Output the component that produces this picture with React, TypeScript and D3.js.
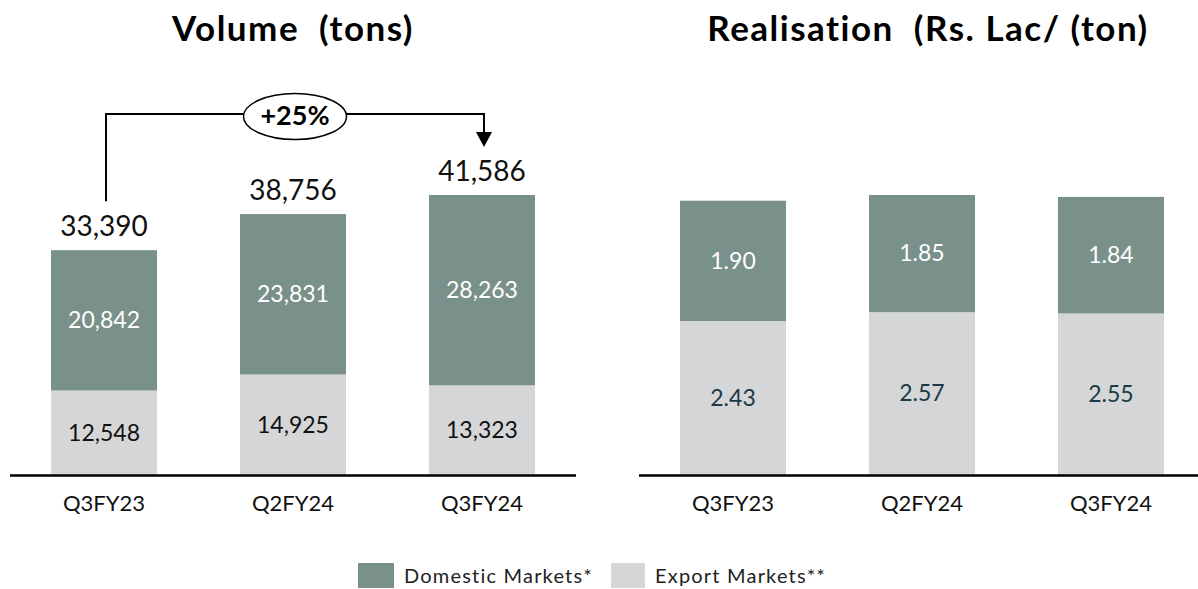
import React from "react";
import * as d3 from "d3";

const categories = ["Q3FY23", "Q2FY24", "Q3FY24"];
const volumeDomestic = [20842, 23831, 28263];
const volumeExport = [12548, 14925, 13323];
const volumeTotal = [33390, 38756, 41586];
const realisationDomestic = [1.9, 1.85, 1.84];
const realisationExport = [2.43, 2.57, 2.55];
const growthLabel = "+25%";
const seriesNames = ["Domestic Markets*", "Export Markets**"];
const titles = ["Volume  (tons)", "Realisation  (Rs. Lac/ (ton)"];

const W = 1198;
const H = 589;
const FONT = "Lato, 'Open Sans', sans-serif";
const C_DOM = "#7a908b";
const C_EXP = "#d5d6d8";
const BASE = 475;
const TOP = 195;

type PanelProps = {
  x0: number;
  x1: number;
  dom: number[];
  exp: number[];
  fmt: (v: number) => string;
  showTotals: boolean;
  domLabelColor: string;
  expLabelColor: string;
  labelSize: number;
};

function Panel({ x0, x1, dom, exp, fmt, showTotals, domLabelColor, expLabelColor, labelSize }: PanelProps) {
  const x = d3.scaleBand<string>().domain(categories).range([x0, x1]).paddingInner(0.439).paddingOuter(0.217);
  const totals = dom.map((d, i) => d + exp[i]);
  const y = d3.scaleLinear().domain([0, d3.max(totals) as number]).range([BASE, TOP]);
  const stack = d3.stack<any>().keys(["exp", "dom"])(categories.map((c, i) => ({ c, exp: exp[i], dom: dom[i] })));
  return (
    <g>
      {stack.map((layer) => (
        <g key={layer.key}>
          {layer.map((seg, i) => {
            const cx = (x(categories[i]) as number) + x.bandwidth() / 2;
            const yTop = y(seg[1]);
            const yBot = y(seg[0]);
            const isDom = layer.key === "dom";
            const val = isDom ? dom[i] : exp[i];
            return (
              <g key={i}>
                <rect x={x(categories[i])} y={yTop} width={x.bandwidth()} height={yBot - yTop} fill={isDom ? C_DOM : C_EXP} />
                <text
                  x={cx}
                  y={(yTop + yBot) / 2 + 2}
                  textAnchor="middle"
                  dominantBaseline="middle"
                  fontFamily={FONT}
                  fontSize={labelSize}
                  fill={isDom ? domLabelColor : expLabelColor}
                >
                  {fmt(val)}
                </text>
              </g>
            );
          })}
        </g>
      ))}
      {showTotals &&
        volumeTotal.map((t, i) => (
          <text
            key={"t" + i}
            x={(x(categories[i]) as number) + x.bandwidth() / 2}
            y={y(t) - 14}
            textAnchor="middle"
            fontFamily={FONT}
            fontSize={28}
            fill="#111"
          >
            {d3.format(",")(t)}
          </text>
        ))}
      <line x1={x0} x2={Math.min(x1, W)} y1={BASE + 0.5} y2={BASE + 0.5} stroke="#000" strokeWidth={2.5} />
      {categories.map((c) => (
        <text
          key={c}
          x={(x(c) as number) + x.bandwidth() / 2}
          y={511}
          textAnchor="middle"
          fontFamily={FONT}
          fontSize={22}
          fill="#111"
        >
          {c}
        </text>
      ))}
      {showTotals && (() => {
        const xa = (x(categories[0]) as number) + x.bandwidth() / 2 + 2;
        const xb = (x(categories[2]) as number) + x.bandwidth() / 2 + 2;
        const ly = 114;
        const ya = y(volumeTotal[0]) - 49;
        const yArrowTip = y(volumeTotal[2]) - 48;
        const cx = (xa + xb) / 2;
        return (
          <g>
            <path
              d={`M${xa},${ya} V${ly} H${xb} V${yArrowTip - 14}`}
              fill="none"
              stroke="#000"
              strokeWidth={2}
            />
            <path d={`M${xb - 8},${yArrowTip - 15} L${xb + 8},${yArrowTip - 15} L${xb},${yArrowTip} Z`} fill="#000" />
            <ellipse cx={cx} cy={116.5} rx={51.5} ry={23} fill="#fff" stroke="#000" strokeWidth={1.5} />
            <text x={cx} y={125} textAnchor="middle" fontFamily={FONT} fontWeight="bold" fontSize={27} fill="#000">
              {growthLabel}
            </text>
          </g>
        );
      })()}
    </g>
  );
}

export default function App() {
  const fmtVol = d3.format(",");
  const fmtReal = d3.format(".2f");
  return (
    <svg width={W} height={H} style={{ position: "absolute", left: 0, top: 0, background: "#fff" }}>
      <rect width={W} height={H} fill="#fff" />
      <text x={293} y={41} textAnchor="middle" fontFamily={FONT} fontWeight="bold" fontSize={35} letterSpacing={1.5} fill="#000" style={{ whiteSpace: "pre" }}>
        {titles[0]}
      </text>
      <text x={928} y={41} textAnchor="middle" fontFamily={FONT} fontWeight="bold" fontSize={35} letterSpacing={1.5} fill="#000" style={{ whiteSpace: "pre" }}>
        {titles[1]}
      </text>
      <Panel x0={10} x1={576} dom={volumeDomestic} exp={volumeExport} fmt={fmtVol} showTotals={true} domLabelColor="#ffffff" expLabelColor="#111" labelSize={23} />
      <Panel x0={639} x1={1205} dom={realisationDomestic} exp={realisationExport} fmt={fmtReal} showTotals={false} domLabelColor="#ffffff" expLabelColor="#1b3a46" labelSize={23} />
      <g fontFamily={FONT} fontSize={20} fill="#222" letterSpacing={1.2}>
        <rect x={358} y={563} width={36} height={25} fill={C_DOM} />
        <text x={404} y={578} dominantBaseline="middle">{seriesNames[0]}</text>
        <rect x={611} y={563} width={34} height={25} fill={C_EXP} />
        <text x={655} y={578} dominantBaseline="middle">{seriesNames[1]}</text>
      </g>
    </svg>
  );
}
